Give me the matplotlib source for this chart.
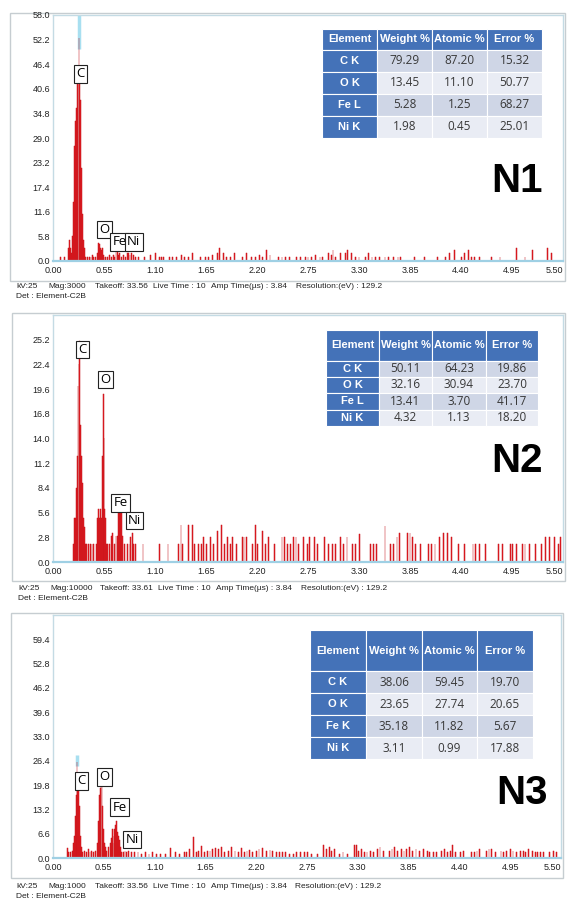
import matplotlib
matplotlib.use('Agg')
from matplotlib import pyplot as plt
from matplotlib.patches import Rectangle

W, H = 570, 899

# ---- data ----
x_ticks = [0.00, 0.55, 1.10, 1.65, 2.20, 2.75, 3.30, 3.85, 4.40, 4.95, 5.50]
x_labels = ['0.00', '0.55', '1.10', '1.65', '2.20', '2.75', '3.30', '3.85', '4.40', '4.95', '5.50']

n1_yticks = [0.0, 5.8, 11.6, 17.4, 23.2, 29.0, 34.8, 40.6, 46.4, 52.2, 58.0]
n2_yticks = [0.0, 2.8, 5.6, 8.4, 11.2, 14.0, 16.8, 19.6, 22.4, 25.2]
n3_yticks = [0.0, 6.6, 13.2, 19.8, 26.4, 33.0, 39.6, 46.2, 52.8, 59.4]

# spectrum N1 (keV, counts)
n1_kev = [0.08, 0.12, 0.17, 0.18, 0.19, 0.20, 0.21, 0.22, 0.23, 0.24, 0.25, 0.26, 0.27, 0.28,
          0.29, 0.30, 0.31, 0.32, 0.33, 0.34, 0.35, 0.37, 0.39, 0.41, 0.43, 0.44, 0.46,
          0.48, 0.49, 0.50, 0.51, 0.52, 0.53, 0.54, 0.55, 0.57, 0.59, 0.61, 0.63, 0.65, 0.66,
          0.68, 0.70, 0.71, 0.72, 0.74, 0.76, 0.78, 0.80, 0.81, 0.83, 0.85, 0.87, 0.89, 0.92,
          0.99, 1.05, 1.11, 1.15, 1.17, 1.19, 1.26, 1.29, 1.33, 1.39, 1.42, 1.46, 1.50, 1.59,
          1.64, 1.68, 1.72, 1.77, 1.80, 1.84, 1.87, 1.91, 1.96, 2.04, 2.09, 2.14, 2.18, 2.23,
          2.26, 2.30, 2.34, 2.43, 2.47, 2.51, 2.55, 2.63, 2.67, 2.72, 2.75, 2.79, 2.83, 2.88,
          2.91, 2.97, 3.00, 3.02, 3.05, 3.10, 3.15, 3.18, 3.22, 3.26, 3.30, 3.37, 3.40, 3.44,
          3.48, 3.52, 3.58, 3.62, 3.67, 3.72, 3.75, 3.90, 4.01, 4.15, 4.23, 4.28, 4.33, 4.41,
          4.44, 4.48, 4.51, 4.55, 4.60, 4.73, 4.82, 5.00, 5.09, 5.17, 5.33, 5.38]
n1_cnt = [1, 1, 3, 5, 3, 2, 6, 14, 27, 33, 36, 42, 46, 52.5,
          43, 38, 22, 11, 5, 3, 1, 1, 1, 1, 1.5, 1, 1,
          2, 4.2, 4, 3, 2.5, 3, 1.5, 1, 1, 1, 1.5, 1, 1.5, 1,
          2.5, 3, 1.5, 2, 1, 1.5, 1, 2, 2, 1.5, 2, 1.5, 1, 1,
          1, 1.5, 2, 1, 1, 1, 1, 1, 1, 1.5, 1, 1, 2, 1,
          1, 1, 1.5, 2, 3, 2, 1, 1, 2, 1, 2, 1, 1, 1.5,
          1, 2.5, 1.5, 1, 1, 1, 1, 1, 1, 1, 1, 1, 1.5, 1,
          1, 2, 1.5, 2.5, 1, 2, 2, 2.5, 2, 1, 1, 1, 2, 1,
          1, 1, 1, 1, 1, 1, 1, 1, 1, 1, 1, 2, 2.5, 1,
          2, 2.5, 1, 1, 1, 1, 1, 3, 1, 2.5, 3, 2]

# spectrum N2
n2_kev = [0.22, 0.23, 0.24, 0.25, 0.26, 0.27, 0.28, 0.29, 0.30, 0.31, 0.32, 0.33, 0.34, 0.35,
          0.36, 0.38, 0.40, 0.42, 0.44, 0.47, 0.48, 0.49, 0.50, 0.51, 0.52, 0.53, 0.54, 0.55,
          0.56, 0.57, 0.58, 0.59, 0.61, 0.63, 0.64, 0.66, 0.68, 0.70, 0.71, 0.72, 0.73, 0.74,
          0.75, 0.77, 0.80, 0.83, 0.84, 0.86, 0.87, 0.89, 0.97, 1.15, 1.24, 1.35, 1.38, 1.40,
          1.46, 1.50, 1.53, 1.57, 1.60, 1.62, 1.66, 1.70, 1.73, 1.77, 1.82, 1.85, 1.88, 1.91,
          1.94, 1.98, 2.04, 2.06, 2.09, 2.15, 2.18, 2.21, 2.26, 2.29, 2.32, 2.39, 2.47, 2.50,
          2.53, 2.56, 2.59, 2.62, 2.65, 2.70, 2.74, 2.77, 2.82, 2.85, 2.93, 2.97, 3.01, 3.05,
          3.10, 3.13, 3.17, 3.23, 3.26, 3.31, 3.42, 3.46, 3.49, 3.58, 3.64, 3.67, 3.71, 3.74,
          3.82, 3.85, 3.88, 3.91, 3.96, 4.05, 4.08, 4.12, 4.17, 4.21, 4.25, 4.30, 4.37, 4.44,
          4.53, 4.56, 4.60, 4.66, 4.80, 4.85, 4.93, 4.96, 5.00, 5.06, 5.09, 5.14, 5.20, 5.27,
          5.31, 5.35, 5.41, 5.45, 5.47]
n2_cnt = [2, 5, 5, 8.4, 12, 20, 22.4, 25, 15.5, 12, 9, 5, 4, 2,
          2, 2, 2, 2, 2, 2, 5, 6, 5, 6, 5, 12, 19, 14,
          6, 5, 2, 2, 2, 3, 3.3, 2, 3, 3, 5.6, 5.6, 7, 5.6,
          3, 2, 2, 2, 2.8, 3.3, 2, 2, 2, 2, 2, 2, 4.2, 2,
          4.2, 4.2, 2, 2, 2, 2.8, 2, 2.8, 2, 3.5, 4.2, 2, 2.8, 2,
          2.8, 2, 2.8, 2.8, 2.8, 2, 4.2, 2, 3.5, 2, 2.8, 2, 2.8, 2.8,
          2, 2, 2.8, 2.8, 2, 2.8, 2, 2.8, 2.8, 2, 2.8, 2, 2, 2,
          2.8, 2, 2.8, 2, 2, 3.2, 2, 2, 2, 4.1, 2, 2, 2.8, 3.3,
          3.3, 3.3, 2.8, 2, 2, 2, 2, 2, 2.8, 3.3, 3.3, 2.8, 2, 2,
          2, 2, 2, 2, 2, 2, 2, 2, 2, 2, 2, 2, 2, 2,
          2.8, 2.8, 2.8, 2, 2.8]

# spectrum N3
n3_kev = [0.16, 0.17, 0.19, 0.21, 0.22, 0.23, 0.24, 0.25, 0.26, 0.27, 0.28, 0.29, 0.30, 0.31,
          0.32, 0.34, 0.36, 0.38, 0.40, 0.42, 0.44, 0.46, 0.48, 0.49, 0.50, 0.51, 0.52, 0.53,
          0.54, 0.55, 0.56, 0.57, 0.58, 0.60, 0.62, 0.63, 0.64, 0.65, 0.66, 0.67, 0.68, 0.69,
          0.70, 0.71, 0.72, 0.73, 0.74, 0.76, 0.78, 0.80, 0.82, 0.85, 0.88, 0.92, 0.96, 1.00,
          1.04, 1.08, 1.12, 1.16, 1.22, 1.27, 1.33, 1.37, 1.42, 1.45, 1.48, 1.52, 1.55, 1.58,
          1.61, 1.64, 1.67, 1.70, 1.73, 1.76, 1.79, 1.82, 1.86, 1.90, 1.93, 1.97, 2.01, 2.04,
          2.07, 2.10, 2.13, 2.16, 2.20, 2.23, 2.27, 2.31, 2.35, 2.38, 2.42, 2.45, 2.48, 2.52,
          2.56, 2.60, 2.64, 2.68, 2.72, 2.76, 2.80, 2.86, 2.93, 2.96, 2.99, 3.02, 3.05, 3.10,
          3.14, 3.19, 3.26, 3.29, 3.31, 3.34, 3.37, 3.40, 3.44, 3.47, 3.51, 3.54, 3.58, 3.64,
          3.67, 3.70, 3.73, 3.77, 3.80, 3.83, 3.86, 3.89, 3.93, 3.97, 4.01, 4.05, 4.08, 4.12,
          4.15, 4.21, 4.24, 4.27, 4.30, 4.33, 4.36, 4.41, 4.44, 4.53, 4.56, 4.59, 4.62, 4.69,
          4.72, 4.75, 4.79, 4.85, 4.88, 4.91, 4.95, 4.98, 5.02, 5.06, 5.09, 5.12, 5.15, 5.19,
          5.22, 5.25, 5.28, 5.31, 5.38, 5.42, 5.45]
n3_cnt = [2.7, 1.5, 1.5, 2, 4, 6, 11.4, 17, 26, 20, 19, 14, 6, 3,
          1.5, 2, 1.5, 2.5, 1.5, 2, 1.5, 2, 4, 10, 17, 19, 21, 19.5,
          14, 8, 4, 3, 2, 3, 4, 5.5, 8, 4, 6, 8, 9, 10,
          7, 6, 5, 3, 1.5, 1.5, 2, 1.5, 2, 1.5, 1.5, 1.5, 1, 1.5,
          1, 1.5, 1, 1, 1, 2.8, 1.5, 1, 1.5, 1.5, 2.5, 5.8, 1.5, 2,
          3.3, 1.5, 2, 2, 2.5, 2.8, 2.5, 3, 1.5, 2, 3, 2, 1.5, 2.7,
          1.5, 2, 2.3, 1.5, 2, 2.5, 2.7, 2, 2.3, 2, 1.5, 1.5, 1.5, 1.5,
          1, 1, 1.5, 1.5, 1.5, 1.5, 1, 1, 3.6, 2.5, 3, 2, 2.5, 1,
          1.5, 1, 3.6, 3.6, 2, 2.5, 1.5, 1.5, 2, 1.5, 2.5, 3, 2, 2,
          2.5, 3, 2, 2.5, 2, 2.5, 3, 2, 2.5, 2, 2.5, 2, 1.5, 1.5,
          1.5, 2, 2.5, 1.5, 2, 3.6, 1.5, 1.5, 2, 1.5, 1.5, 2, 2.5, 2,
          2.5, 2.5, 1.5, 2, 1.5, 2, 2.5, 2, 1.5, 2, 2, 1.5, 2.5, 2,
          1.5, 1.5, 1.5, 1.5, 1.5, 2, 1.5]

# quantification tables
elements_1 = ['C K', 'O K', 'Fe L', 'Ni K']
weight_1 = [79.29, 13.45, 5.28, 1.98]
atomic_1 = [87.20, 11.10, 1.25, 0.45]
error_1 = [15.32, 50.77, 68.27, 25.01]

elements_2 = ['C K', 'O K', 'Fe L', 'Ni K']
weight_2 = [50.11, 32.16, 13.41, 4.32]
atomic_2 = [64.23, 30.94, 3.70, 1.13]
error_2 = [19.86, 23.70, 41.17, 18.20]

elements_3 = ['C K', 'O K', 'Fe K', 'Ni K']
weight_3 = [38.06, 23.65, 35.18, 3.11]
atomic_3 = [59.45, 27.74, 11.82, 0.99]
error_3 = [19.70, 20.65, 5.67, 17.88]

peak_names = ['C', 'O', 'Fe', 'Ni']
mags = ['3000', '10000', '1000']
takeoffs = ['33.56', '33.61', '33.56']

small = 'Liberation Sans'
blue = '#4472b8'
shades = ['#cfd6e6', '#e9ecf4']

fig = plt.figure(figsize=(W / 100, H / 100), dpi=100)


def fig_rect(x0, y0, x1, y1, **kw):
    fig.patches.append(Rectangle((x0 / W, 1 - y1 / H), (x1 - x0) / W, (y1 - y0) / H,
                                 transform=fig.transFigure, figure=fig, **kw))


def fig_text(x, y, s, **kw):
    fig.text(x / W, 1 - y / H, s, **kw)


def draw_panel(frame, box, kev, cnt, yticks, ymax, labels, blue_line):
    fig_rect(*frame, facecolor='none', edgecolor='#c6cdd1', lw=1, zorder=-1)
    x0, y0, x1, y1 = box
    ax = fig.add_axes([x0 / W, 1 - y1 / H, (x1 - x0) / W, (y1 - y0) / H])
    if blue_line:
        ax.vlines(blue_line[0], blue_line[1], blue_line[2], color='#a8dff0', lw=2.5, zorder=1)
    ax.bar(kev, cnt, width=0.0095, color='#ea1c22', edgecolor='#c3141a', lw=0.35, zorder=2)
    for name, (lx, ly) in zip(peak_names, labels):
        ax.text(lx, ly, name, ha='center', va='center', fontsize=9.5, zorder=5,
                family='Open Sans',
                bbox=dict(boxstyle='square,pad=0.18', fc='white', ec='#222222', lw=0.8))
    ax.set_xlim(0, 5.5)
    ax.set_ylim(0, ymax)
    ax.set_xticks(x_ticks)
    ax.set_xticklabels(x_labels, family=small, fontsize=6.5, color='#222222')
    ax.set_yticks(yticks)
    ax.set_yticklabels(['%.1f' % v for v in yticks], family=small, fontsize=6.5, color='#222222')
    ax.tick_params(length=0)
    ax.tick_params(axis='x', pad=3.5)
    ax.tick_params(axis='y', pad=2)
    # last x label sits on the frame edge, as in the instrument print-out
    ax.get_xticklabels()[-1].set_horizontalalignment('right')
    for s in ['top', 'right', 'left']:
        ax.spines[s].set_color('#c4dbe4')
        ax.spines[s].set_linewidth(1)
    ax.spines['bottom'].set_color('#9fd0e4')
    ax.spines['bottom'].set_linewidth(1.6)
    ax.set_facecolor('white')
    return ax


def draw_table(cols, rows, elems, wt, at, err, hsize, csize):
    header = ['Element', 'Weight %', 'Atomic %', 'Error %']
    for j in range(4):
        fig_rect(cols[j], rows[0], cols[j + 1], rows[1], facecolor=blue, edgecolor='white', lw=0.8)
        fig_text((cols[j] + cols[j + 1]) / 2, (rows[0] + rows[1]) / 2, header[j], color='white',
                 weight='bold', ha='center', va='center', size=hsize, family='Liberation Sans')
    for i in range(4):
        ya, yb = rows[i + 1], rows[i + 2]
        ym = (ya + yb) / 2
        fig_rect(cols[0], ya, cols[1], yb, facecolor=blue, edgecolor='white', lw=0.8)
        fig_text((cols[0] + cols[1]) / 2, ym, elems[i], color='white', weight='bold',
                 ha='center', va='center', size=csize - 0.5, family='Liberation Sans')
        for j, v in enumerate([wt[i], at[i], err[i]]):
            fig_rect(cols[j + 1], ya, cols[j + 2], yb, facecolor=shades[i % 2],
                     edgecolor='white', lw=0.8)
            fig_text((cols[j + 1] + cols[j + 2]) / 2, ym, '%.2f' % v, color='#383838',
                     ha='center', va='center', size=csize, family='Open Sans')


def draw_info(y, xs, mag, takeoff):
    parts = ['kV:25', 'Mag:' + mag, 'Takeoff: ' + takeoff, 'Live Time : 10',
             'Amp Time(\u00b5s) : 3.84', 'Resolution:(eV) : 129.2']
    for x, p in zip(xs, parts):
        fig_text(x, y, p, family=small, size=6, va='center', color='#222222')
    fig_text(xs[0], y + 10, 'Det : Element-C2B', family=small, size=6, va='center', color='#222222')


# ---- panel N1 ----
draw_panel((10, 13, 565, 281), (53, 15, 563, 261), n1_kev, n1_cnt, n1_yticks, 58.0,
           [(0.30, 44.1), (0.553, 7.4), (0.72, 4.5), (0.87, 4.5)], (0.28, 50, 58))
draw_table([322, 377, 432, 487, 542], [29, 50, 72, 94, 116, 138],
           elements_1, weight_1, atomic_1, error_1, 8, 8.5)
fig_text(517, 181, 'N1', size=29, weight='bold', family='Liberation Sans', ha='center', va='center')
draw_info(287, [16, 48, 95, 153, 211, 296], mags[0], takeoffs[0])

# ---- panel N2 ----
draw_panel((12, 313, 565, 581), (53, 315, 563, 562), n2_kev, n2_cnt, n2_yticks, 28.0,
           [(0.32, 24.1), (0.566, 20.7), (0.733, 6.7), (0.879, 4.7)], None)
draw_table([326, 379, 432, 486, 538], [330, 361, 377, 393, 410, 426],
           elements_2, weight_2, atomic_2, error_2, 8, 8.5)
fig_text(517, 461, 'N2', size=29, weight='bold', family='Liberation Sans', ha='center', va='center')
draw_info(589, [18, 50, 100, 158, 216, 301], mags[1], takeoffs[1])

# ---- panel N3 ----
draw_panel((11, 613, 563, 878), (53, 615, 561, 858), n3_kev, n3_cnt, n3_yticks, 66.0,
           [(0.305, 21.0), (0.553, 22.0), (0.72, 13.8), (0.86, 5.0)], (0.26, 25, 28))
draw_table([310, 366, 422, 477, 533], [630, 671, 693, 715, 737, 759],
           elements_3, weight_3, atomic_3, error_3, 8, 8.5)
fig_text(522, 793, 'N3', size=29, weight='bold', family='Liberation Sans', ha='center', va='center')
draw_info(886, [16, 48, 95, 153, 211, 295], mags[2], takeoffs[2])

fig.savefig('out.png', dpi=100, facecolor='white')
